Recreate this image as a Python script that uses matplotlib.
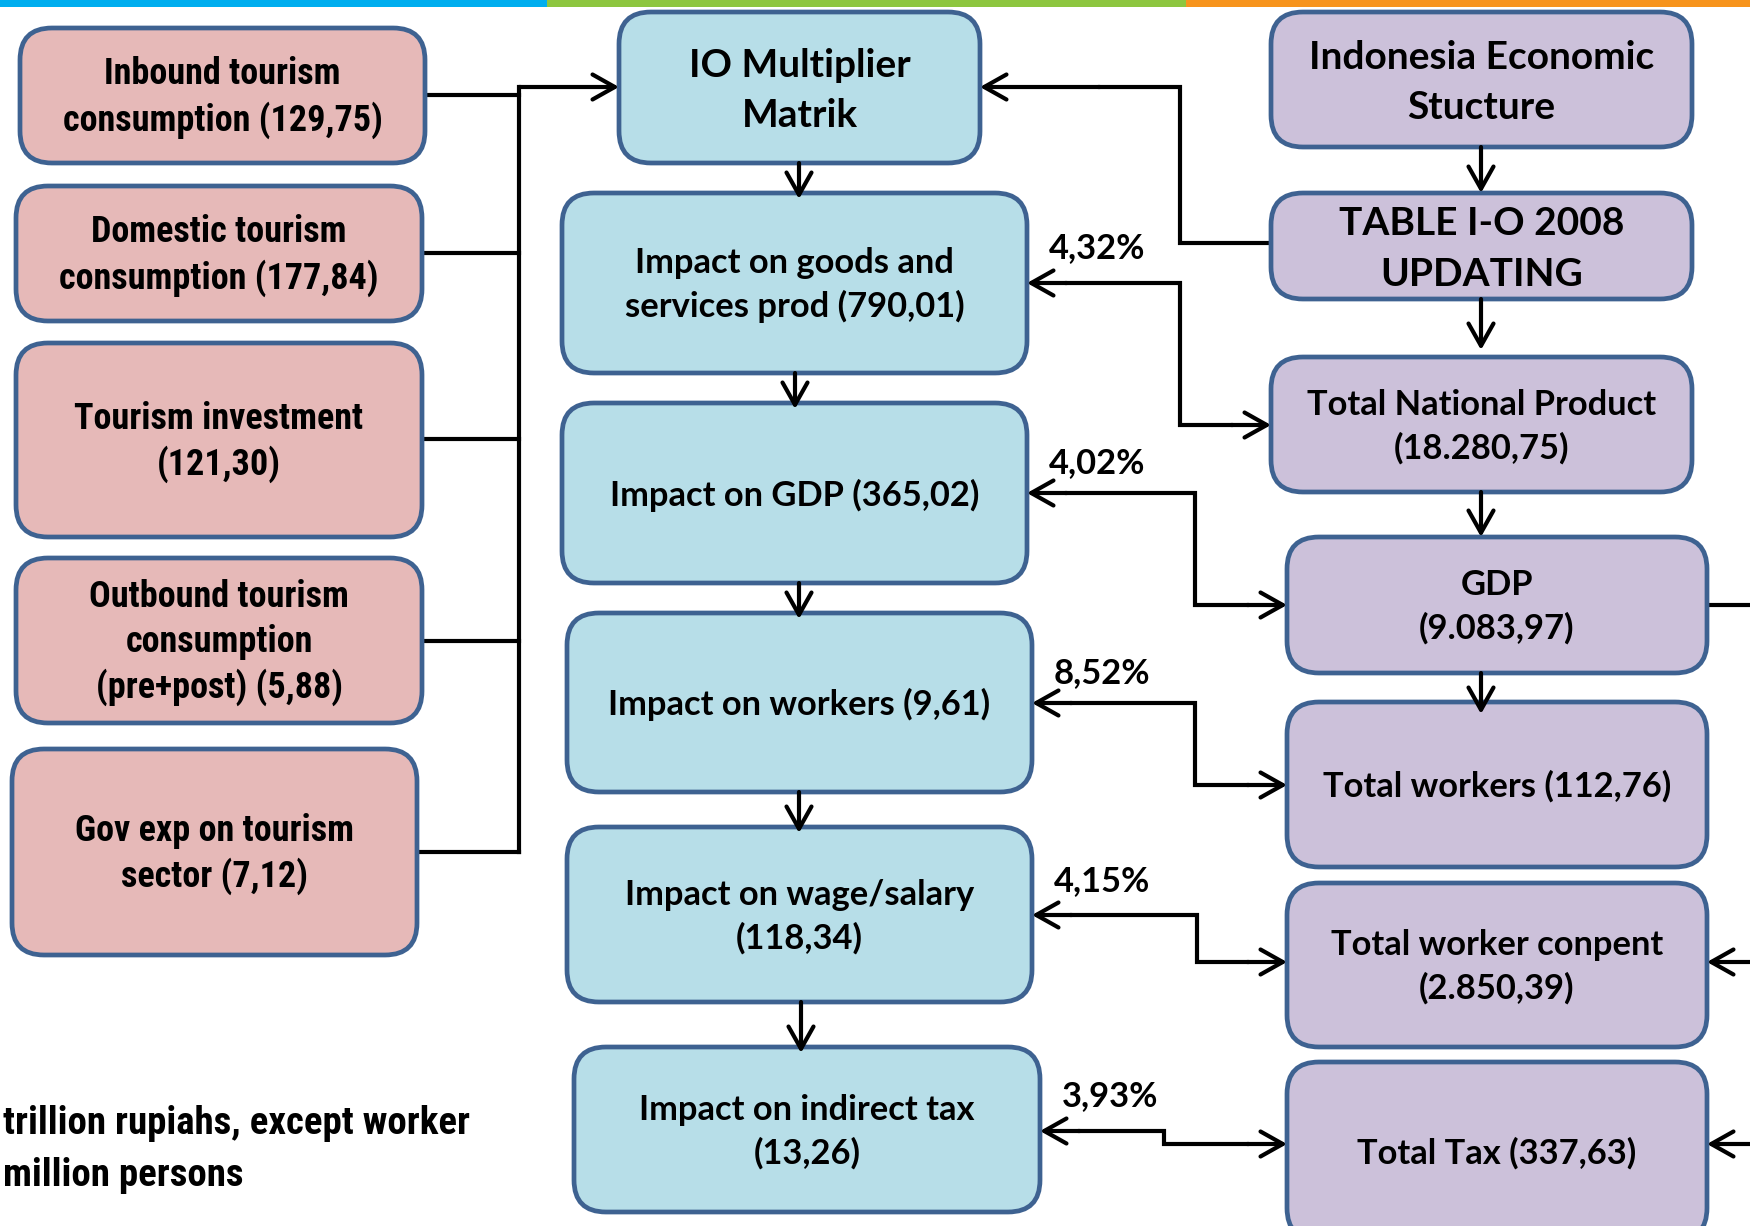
import matplotlib
matplotlib.use("Agg")
import matplotlib.pyplot as plt
from matplotlib import font_manager
from matplotlib.patches import FancyBboxPatch, Rectangle, FancyArrowPatch

# box labels (values in trillion rupiahs, workers in million persons)
left_labels = ["Inbound tourism\nconsumption (129,75)",
               "Domestic tourism\nconsumption (177,84)",
               "Tourism investment\n(121,30)",
               "Outbound tourism\nconsumption\n(pre+post) (5,88)",
               "Gov exp on tourism\nsector (7,12)"]
mid_labels = ["IO Multiplier\nMatrik",
              "Impact on goods and\nservices prod (790,01)",
              "Impact on GDP (365,02)",
              "Impact on workers (9,61)",
              "Impact on wage/salary\n(118,34)",
              "Impact on indirect tax\n(13,26)"]
right_labels = ["Indonesia Economic\nStucture",
                "TABLE I-O 2008\nUPDATING",
                "Total National Product\n(18.280,75)",
                "GDP\n(9.083,97)",
                "Total workers (112,76)",
                "Total worker conpent\n(2.850,39)",
                "Total Tax (337,63)"]
shares = ["4,32%", "4,02%", "8,52%", "4,15%", "3,93%"]
note = ["trillion rupiahs, except worker", "million persons"]

# layout in pixels (x0, y0, x1, y1), y downwards
left_boxes = [(20, 28, 425, 163), (16, 186, 422, 321), (16, 343, 422, 537),
              (16, 558, 422, 723), (12, 749, 417, 955)]
mid_boxes = [(619, 12, 980, 163), (562, 193, 1027, 373), (562, 403, 1027, 583),
             (567, 613, 1032, 792), (567, 827, 1032, 1002), (574, 1047, 1040, 1212)]
right_boxes = [(1271, 12, 1692, 147), (1271, 193, 1692, 299), (1271, 357, 1692, 492),
               (1287, 537, 1707, 673), (1287, 702, 1707, 867), (1287, 883, 1707, 1047),
               (1287, 1062, 1707, 1240)]

EDGE = "#3E6291"
SANS = ["Lato", "DejaVu Sans"]

# narrow face for the left column if one is installed
installed = {f.name for f in font_manager.fontManager.ttflist}
narrow_size = 22.5
note_size = 24
NARROW = ["Liberation Sans", "DejaVu Sans"]
for cand in ["Liberation Sans Narrow", "Roboto Condensed", "Open Sans Condensed"]:
    if cand in installed:
        NARROW = [cand, "Liberation Sans", "DejaVu Sans"]
        narrow_size = 26
        note_size = 28
        break

fig = plt.figure(figsize=(17.5, 12.26), dpi=100)
ax = fig.add_axes([0, 0, 1, 1])
ax.set_xlim(0, 1750)
ax.set_ylim(1226, 0)
ax.axis("off")

# coloured strip on top
for x0, x1, c in [(0, 547, "#00AEEF"), (547, 1186, "#8DC63F"), (1186, 1750, "#F7941D")]:
    ax.add_patch(Rectangle((x0, 0), x1 - x0, 7, color=c, lw=0))


def box(b, label, fc, family, size, lsp, dy=0):
    x0, y0, x1, y1 = b
    ax.add_patch(FancyBboxPatch((x0, y0), x1 - x0, y1 - y0,
                                boxstyle="round,pad=0,rounding_size=32",
                                fc=fc, ec=EDGE, lw=3.4, zorder=2))
    ax.text((x0 + x1) / 2, (y0 + y1) / 2 + dy, label, ha="center", va="center",
            fontsize=size, fontweight="bold", family=family,
            linespacing=lsp, zorder=3)


def line(xs, ys):
    ax.plot(xs, ys, color="black", lw=3, solid_joinstyle="miter",
            solid_capstyle="projecting", zorder=1)


def arrow(p0, p1):
    ax.add_patch(FancyArrowPatch(p0, p1, arrowstyle="->,head_length=0.8,head_width=0.45",
                                 mutation_scale=20, color="black", lw=3,
                                 shrinkA=0, shrinkB=0, zorder=4))


for b, t in zip(left_boxes, left_labels):
    box(b, t, "#E6B9B8", NARROW, narrow_size, 1.3, 2)
for i, (b, t) in enumerate(zip(mid_boxes, mid_labels)):
    if i == 0:
        box(b, t, "#B7DEE8", SANS, 28, 1.5, 3)
    else:
        box(b, t, "#B7DEE8", SANS, 24.8, 1.42, 2)
for i, (b, t) in enumerate(zip(right_boxes, right_labels)):
    if i < 2:
        box(b, t, "#CCC1DA", SANS, 28, 1.52, 3)
    else:
        box(b, t, "#CCC1DA", SANS, 24.8, 1.42, 2)

# left inputs feeding a common bus into the multiplier matrix
bus_x = 519
line([bus_x, bus_x], [87, 852])
for b, y in zip(left_boxes, [95, 253, 439, 641, 852]):
    line([b[2], bus_x], [y, y])
arrow((bus_x, 87), (mid_boxes[0][0], 87))

# vertical chains
mid_x = [799, 795, 799, 799, 801]
for i, x in enumerate(mid_x):
    arrow((x, mid_boxes[i][3]), (x, mid_boxes[i + 1][1] + 6))
right_x = [1481, 1481, 1481, 1481]
right_end = [193, 350, 537, 714]
for i, x in enumerate(right_x):
    arrow((x, right_boxes[i][3]), (x, right_end[i]))

# I-O table back into the multiplier matrix
line([right_boxes[1][0], 1180, 1180, 1100], [243, 243, 87, 87])
arrow((1100, 87), (mid_boxes[0][2], 87))

# impact <-> national totals
conn = [(283, 1180, 425), (493, 1195, 605), (703, 1195, 785),
        (915, 1197, 962), (1131, 1164, 1144)]
label_y = [248, 463, 673, 881, 1096]
for k, (ya, xm, yb) in enumerate(conn):
    mb = mid_boxes[k + 1]
    rb = right_boxes[k + 2]
    line([mb[2] + 40, xm, xm, rb[0] - 40], [ya, ya, yb, yb])
    arrow((mb[2] + 40, ya), (mb[2], ya))
    arrow((rb[0] - 40, yb), (rb[0], yb))
    ax.text(mb[2] + 70, label_y[k], shares[k], ha="center", va="center",
            fontsize=24.8, fontweight="bold", family=SANS)

# links leaving the right edge
line([right_boxes[3][2], 1760], [605, 605])
arrow((1760, 962), (right_boxes[5][2], 962))
arrow((1760, 1144), (right_boxes[6][2], 1144))

# unit note at the lower left
ax.text(3, 1124, note[0], ha="left", va="center", fontsize=note_size,
        fontweight="bold", family=NARROW)
ax.text(3, 1175, note[1], ha="left", va="center", fontsize=note_size,
        fontweight="bold", family=NARROW)

fig.savefig("out.png", dpi=100)
